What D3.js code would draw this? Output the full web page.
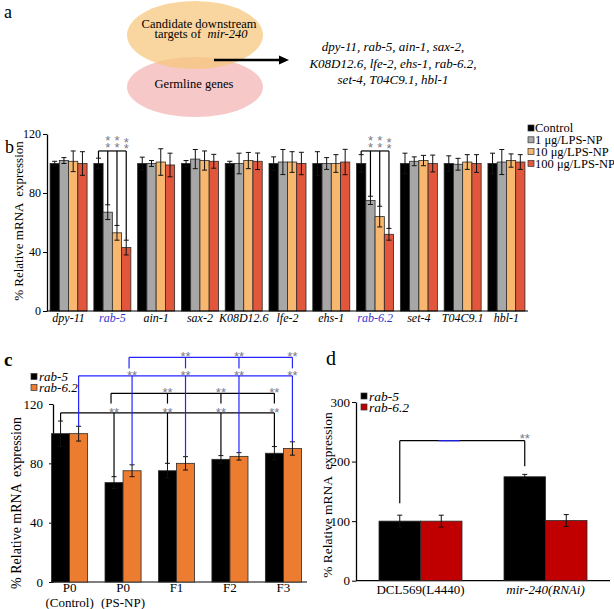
<!DOCTYPE html>
<html>
<head>
<meta charset="utf-8">
<script src="https://cdn.jsdelivr.net/npm/d3@7"></script>
<style>
body { margin: 0; background: #fff; }
text { font-family: "Liberation Serif", "Times New Roman", serif; fill: #000; }
.stars { font-family: "Liberation Sans", Arial, sans-serif; }
</style>
</head>
<body>
<script>
// panel a text
const geneLines = ["dpy-11, rab-5, ain-1, sax-2,", "K08D12.6, lfe-2, ehs-1, rab-6.2,", "set-4, T04C9.1, hbl-1"]

// panel b data
const genes = ["dpy-11", "rab-5", "ain-1", "sax-2", "K08D12.6", "lfe-2", "ehs-1", "rab-6.2", "set-4", "T04C9.1", "hbl-1"]
const blueGenes = ["rab-5", "rab-6.2"]
const doses = ["Control", "1 μg/LPS-NP", "10 μg/LPS-NP", "100 μg/LPS-NP"]
const bControl = [100, 100, 100, 100, 100, 100, 100, 100, 100, 100, 100]
const bControlErr = [1.5, 3.6, 4.3, 2, 1.5, 4.5, 8, 6, 7, 5.2, 7]
const b1 = [102, 67, 100, 103, 100, 101, 100, 75, 101.5, 99.5, 101]
const b1Err = [2, 5, 2, 6.5, 7, 8.5, 4, 2.8, 3, 4, 8.5]
const b10 = [101.5, 53, 101, 102, 102, 101, 100, 64, 102, 101, 102]
const b10Err = [7, 5, 9, 6.5, 5.5, 7, 6, 7, 3.5, 5, 4.5]
const b100 = [100, 43, 99, 101.5, 101.5, 100, 101, 52, 100, 100, 101]
const b100Err = [8, 5, 8, 4.7, 5.6, 7.6, 8.6, 4, 5.7, 6, 5]
const bTicks = [0, 40, 80, 120]

// panel c data
const gens = ["P0 (Control)", "P0 (PS-NP)", "F1", "F2", "F3"]
const cSeries = ["rab-5", "rab-6.2"]
const cRab5 = [100, 67, 75, 82.7, 86.8]
const cRab5Err = [8.5, 4, 5, 2.5, 4.5]
const cRab62 = [100, 75, 80, 84.7, 90]
const cRab62Err = [5, 4, 4.5, 2.5, 4.5]
const cTicks = [0, 40, 80, 120]

// panel d data
const dGroups = ["DCL569(L4440)", "mir-240(RNAi)"]
const dRab5 = [100, 174.5]
const dRab5Err = [10, 4]
const dRab62 = [100, 101]
const dRab62Err = [10, 10]
const dTicks = [0, 100, 200, 300]

const blue = "#2424ff"
const starColor = "#78788a"

const svg = d3.select("body").append("svg")
    .attr("width", 614)
    .attr("height", 609)

// helpers
function yLabel(g, x, y, size) {
    g.append("text")
        .attr("transform", `translate(${x},${y}) rotate(-90)`)
        .attr("text-anchor", "middle")
        .attr("font-size", size)
        .style("white-space", "pre")
        .text("% Relative mRNA  expression")
}

function yAxis(g, x, scale, ticks, size, pad) {
    const ax = g.append("g")
        .attr("transform", `translate(${x},0)`)
        .call(d3.axisLeft(scale).tickValues(ticks).tickSize(4).tickSizeOuter(0).tickPadding(pad))
    ax.attr("font-size", size)
    ax.select(".domain").attr("stroke-width", 1.3)
    return ax
}

function errBar(g, cx, top, bottom, cap) {
    g.append("line").attr("x1", cx).attr("x2", cx).attr("y1", top).attr("y2", bottom)
        .attr("stroke", "#111").attr("stroke-width", 1)
    g.append("line").attr("x1", cx - cap).attr("x2", cx + cap).attr("y1", top).attr("y2", top)
        .attr("stroke", "#111").attr("stroke-width", 1)
    g.append("line").attr("x1", cx - cap).attr("x2", cx + cap).attr("y1", bottom).attr("y2", bottom)
        .attr("stroke", "#111").attr("stroke-width", 1)
}

function stars(g, x, yCenter, txt, size) {
    g.append("text")
        .attr("class", "stars")
        .attr("x", x)
        .attr("y", yCenter + size * 0.58)
        .attr("text-anchor", "middle")
        .attr("font-size", size)
        .style("fill", starColor)
        .text(txt)
}

function seg(g, x1, y1, x2, y2, color) {
    g.append("line").attr("x1", x1).attr("y1", y1).attr("x2", x2).attr("y2", y2)
        .attr("stroke", color).attr("stroke-width", 1.2)
}

// ---------- panel a ----------
const ga = svg.append("g")
ga.append("text").attr("x", 4).attr("y", 18).attr("font-size", 18).text("a")
ga.append("ellipse").attr("cx", 195).attr("cy", 87).attr("rx", 68).attr("ry", 30).attr("fill", "#f6c8c8")
ga.append("ellipse").attr("cx", 195).attr("cy", 35).attr("rx", 68).attr("ry", 34)
    .attr("fill", "#f6c67a").attr("fill-opacity", 0.72)
ga.append("text").attr("x", 199).attr("y", 28).attr("text-anchor", "middle").attr("font-size", 12.5)
    .text("Candidate downstream")
const t2 = ga.append("text").attr("x", 201).attr("y", 38).attr("text-anchor", "middle").attr("font-size", 12.5)
    .style("white-space", "pre")
t2.append("tspan").text("targets of  ")
t2.append("tspan").attr("font-style", "italic").text("mir-240")
ga.append("text").attr("x", 194).attr("y", 88).attr("text-anchor", "middle").attr("font-size", 12.5)
    .text("Germline genes")
ga.append("line").attr("x1", 214).attr("x2", 281).attr("y1", 60).attr("y2", 60)
    .attr("stroke", "#000").attr("stroke-width", 2.5)
ga.append("polygon").attr("points", "289,60 279,55.5 279,64.5").attr("fill", "#000")
ga.selectAll(".gl")
    .data(geneLines)
    .enter()
    .append("text")
    .attr("x", 393)
    .attr("y", (d, i) => 51 + i * 16.5)
    .attr("text-anchor", "middle")
    .attr("font-size", 13)
    .attr("font-style", "italic")
    .text(d => d)

// ---------- panel b ----------
const gb = svg.append("g")
const bMeans = [bControl, b1, b10, b100]
const bErrs = [bControlErr, b1Err, b10Err, b100Err]
const bColors = ["#000000", "#a7a7a7", "#f7b76f", "#e2573b"]

const yb = d3.scaleLinear().domain([0, 120]).range([311, 134])
const xb = d3.scaleBand().domain(genes).range([47, 528]).paddingInner(0.155).paddingOuter(0.07)
const xbIn = d3.scaleBand().domain(doses).range([0, xb.bandwidth()])
const bw = xbIn.bandwidth()
const cxb = (gi, di) => xb(genes[gi]) + xbIn(doses[di]) + bw / 2

genes.forEach((g, gi) => {
    doses.forEach((d, di) => {
        const v = bMeans[di][gi]
        gb.append("rect")
            .attr("x", xb(g) + xbIn(d))
            .attr("y", yb(v))
            .attr("width", bw)
            .attr("height", yb(0) - yb(v))
            .attr("fill", bColors[di])
            .attr("stroke", "#2a2a2a")
            .attr("stroke-width", 0.8)
    })
})
genes.forEach((g, gi) => {
    doses.forEach((d, di) => {
        const v = bMeans[di][gi], e = bErrs[di][gi]
        errBar(gb, cxb(gi, di), yb(v + e), yb(v - e), 2.5)
    })
})

yAxis(gb, 47, yb, bTicks, 12, 2)
seg(gb, 47, yb(0), 528, yb(0), "#000")
gb.selectAll(".xl")
    .data(genes)
    .enter()
    .append("text")
    .attr("x", d => xb(d) + xb.bandwidth() / 2)
    .attr("y", 322)
    .attr("text-anchor", "middle")
    .attr("font-size", 12)
    .attr("font-style", "italic")
    .style("fill", d => blueGenes.includes(d) ? "#3434d0" : "#000")
    .text(d => d)
yLabel(gb, 23, 221, 13)
gb.append("text").attr("x", 5).attr("y", 153).attr("font-size", 18).text("b")

// significance brackets (b), two stars stacked above each treated bar
const bBracketLevel = 108.5
const bStarTop = 117.5
blueGenes.forEach(name => {
    const gi = genes.indexOf(name)
    seg(gb, cxb(gi, 0), yb(bBracketLevel), cxb(gi, 3), yb(bBracketLevel), "#000")
    doses.forEach((d, di) => {
        const top = bMeans[di][gi] + bErrs[di][gi]
        seg(gb, cxb(gi, di), yb(bBracketLevel), cxb(gi, di), yb(top), "#000")
        if (di > 0) {
            const drop = di === 3 ? 1.2 : 0
            const st = gb.append("text")
                .attr("class", "stars")
                .attr("text-anchor", "middle")
                .attr("font-size", 13)
                .style("fill", starColor)
            st.append("tspan").attr("x", cxb(gi, di)).attr("y", yb(bStarTop - drop) + 7.5).text("*")
            st.append("tspan").attr("x", cxb(gi, di)).attr("dy", 6.5).text("*")
        }
    })
})

// legend (b)
doses.forEach((d, i) => {
    const cy = 128 + i * 11.8
    gb.append("rect").attr("x", 528).attr("y", cy - 3).attr("width", 6).attr("height", 6)
        .attr("fill", bColors[i]).attr("stroke", "#333").attr("stroke-width", 0.7)
    gb.append("text").attr("x", 535).attr("y", cy + 4.3).attr("font-size", 12.5).text(d)
})

// ---------- panel c ----------
const gc = svg.append("g")
const cMeans = [cRab5, cRab62]
const cErrs = [cRab5Err, cRab62Err]
const cColors = ["#000000", "#ec7c30"]
const yc = d3.scaleLinear().domain([0, 120]).range([582, 404])
const xc = d3.scaleBand().domain(gens).range([43, 310]).paddingInner(0.325).paddingOuter(0.16)
const xcIn = d3.scaleBand().domain(cSeries).range([0, xc.bandwidth()])
const cbw = xcIn.bandwidth()
const cxc = (gi, si) => xc(gens[gi]) + xcIn(cSeries[si]) + cbw / 2

yAxis(gc, 53, yc, cTicks, 13, 6)
seg(gc, 53, yc(0), 307, yc(0), "#000")

gens.forEach((g, gi) => {
    cSeries.forEach((s, si) => {
        const v = cMeans[si][gi]
        gc.append("rect")
            .attr("x", xc(g) + xcIn(s))
            .attr("y", yc(v))
            .attr("width", cbw)
            .attr("height", yc(0) - yc(v))
            .attr("fill", cColors[si])
            .attr("stroke", "#2a2a2a")
            .attr("stroke-width", 0.8)
        errBar(gc, cxc(gi, si), yc(v + cErrs[si][gi]), yc(v - cErrs[si][gi]), 2.5)
    })
})

gens.forEach((g, gi) => {
    g.split(" ").forEach((line, li) => {
        gc.append("text")
            .attr("x", xc(g) + xc.bandwidth() / 2)
            .attr("y", 592 + li * 14.5)
            .attr("text-anchor", "middle")
            .attr("font-size", 13)
            .text(line)
    })
})
yLabel(gc, 21, 503, 14)
gc.append("text").attr("x", 4).attr("y", 366).attr("font-size", 19).attr("font-weight", "bold").text("c")

// significance brackets (c): lower ones reach the bars, upper ones stop above the stars
const cBrackets = [
    { si: 0, from: 0, to: [1, 2, 3, 4], level: 114, stop: null, dx: 0 },
    { si: 0, from: 1, to: [2, 3, 4], level: 127.2, stop: 120.3, dx: -3 },
    { si: 1, from: 0, to: [1, 2, 3, 4], level: 139, stop: null, dx: 0 },
    { si: 1, from: 1, to: [2, 3, 4], level: 151.5, stop: 144, dx: -3 }
]
cBrackets.forEach(b => {
    const col = b.si === 0 ? "#000" : blue
    const x0 = cxc(b.from, b.si) + b.dx
    const xEnd = cxc(b.to[b.to.length - 1], b.si)
    seg(gc, x0, yc(b.level), xEnd, yc(b.level), col)
    const ends = [b.from].concat(b.to)
    ends.forEach((gi, k) => {
        const x = k === 0 ? x0 : cxc(gi, b.si)
        const stop = b.stop !== null ? b.stop : cMeans[b.si][gi] + cErrs[b.si][gi]
        seg(gc, x, yc(b.level), x, yc(stop), col)
        if (k > 0) stars(gc, x, yc(b.level + 2.6), "**", 13)
    })
})

// legend (c)
cSeries.forEach((s, i) => {
    const cy = 376.5 + i * 11
    gc.append("rect").attr("x", 31).attr("y", cy - 3).attr("width", 6).attr("height", 6)
        .attr("fill", cColors[i]).attr("stroke", "#333").attr("stroke-width", 0.7)
    gc.append("text").attr("x", 39).attr("y", cy + 4.5).attr("font-size", 13)
        .attr("font-style", "italic").text(s)
})

// ---------- panel d ----------
const gd = svg.append("g")
const dMeans = [dRab5, dRab62]
const dErrs = [dRab5Err, dRab62Err]
const dColors = ["#000000", "#c00000"]
const yd = d3.scaleLinear().domain([0, 300]).range([580.7, 402])
const xd = d3.scaleBand().domain(dGroups).range([356, 610]).paddingInner(0.336).paddingOuter(0.184)
const xdIn = d3.scaleBand().domain(cSeries).range([0, xd.bandwidth()])
const dbw = xdIn.bandwidth()
const cxd = (gi, si) => xd(dGroups[gi]) + xdIn(cSeries[si]) + dbw / 2

yAxis(gd, 356, yd, dTicks, 13, 2)
seg(gd, 356, yd(0), 610, yd(0), "#000")

dGroups.forEach((g, gi) => {
    cSeries.forEach((s, si) => {
        const v = dMeans[si][gi]
        gd.append("rect")
            .attr("x", xd(g) + xdIn(s))
            .attr("y", yd(v))
            .attr("width", dbw)
            .attr("height", yd(0) - yd(v))
            .attr("fill", dColors[si])
            .attr("stroke", "#2a2a2a")
            .attr("stroke-width", 0.8)
        errBar(gd, cxd(gi, si), yd(v + dErrs[si][gi]), yd(v - dErrs[si][gi]), 2.5)
    })
})

dGroups.forEach((g, gi) => {
    gd.append("text")
        .attr("x", xd(g) + xd.bandwidth() / 2)
        .attr("y", 594)
        .attr("text-anchor", "middle")
        .attr("font-size", 13)
        .attr("font-style", gi === 1 ? "italic" : "normal")
        .text(g)
})
yLabel(gd, 332, 495, 13.5)
gd.append("text").attr("x", 326).attr("y", 365).attr("font-size", 20).text("d")

// bracket (d)
const dLevel = 235
const dStops = [130, 192]
const dx0 = cxd(0, 0), dx1 = cxd(1, 0)
seg(gd, dx0, yd(dLevel), dx1, yd(dLevel), "#000")
seg(gd, dx0 + (dx1 - dx0) * 0.31, yd(dLevel), dx0 + (dx1 - dx0) * 0.48, yd(dLevel), blue)
seg(gd, dx0, yd(dLevel), dx0, yd(dStops[0]), "#000")
seg(gd, dx1, yd(dLevel), dx1, yd(dStops[1]), "#000")
stars(gd, dx1, yd(dLevel + 8), "**", 13)

// legend (d)
cSeries.forEach((s, i) => {
    const cy = 396 + i * 11
    gd.append("rect").attr("x", 361).attr("y", cy - 3).attr("width", 6).attr("height", 6)
        .attr("fill", dColors[i]).attr("stroke", "#333").attr("stroke-width", 0.7)
    gd.append("text").attr("x", 369).attr("y", cy + 4.5).attr("font-size", 13.5)
        .attr("font-style", "italic").text(s)
})
</script>
</body>
</html>
